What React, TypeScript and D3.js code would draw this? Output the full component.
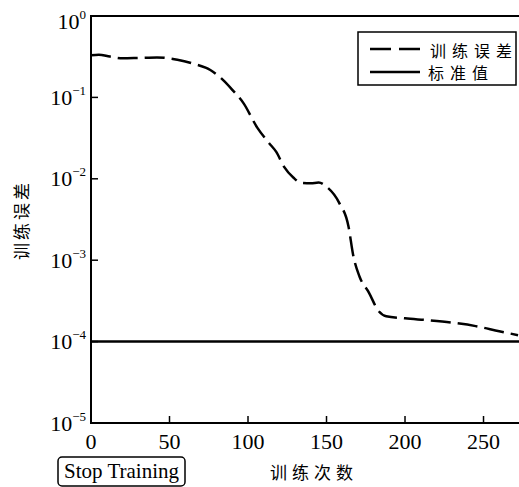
import React from "react";
import * as d3 from "d3";

const iterations = [0, 5, 12, 20, 30, 42, 55, 65, 76, 84, 90, 97, 106, 113, 118, 123, 129, 134, 140, 145, 150, 158, 164, 167, 171, 177, 183, 188, 200, 215, 230, 245, 260, 272];
const trainError = [0.33, 0.335, 0.318, 0.302, 0.305, 0.31, 0.29, 0.26, 0.217, 0.164, 0.124, 0.0857, 0.0422, 0.028, 0.0214, 0.014, 0.0103, 0.0089, 0.0088, 0.009, 0.008, 0.0051, 0.0026, 0.00115, 0.00063, 0.0004, 0.00024, 0.000205, 0.000193, 0.000183, 0.000171, 0.000155, 0.000134, 0.00012];
const goal = 1e-4;
const xTicks = [0, 50, 100, 150, 200, 250];
const yExponents = [0, -1, -2, -3, -4, -5];
const seriesNames = ["训练误差", "标准值"];
const xLabel = "训练次数";
const yLabel = "训练误差";
const buttonLabel = "Stop Training";

const W = 519;
const H = 487;
const left = 91;
const right = 519;
const top = 16;
const bottom = 423;

const serif = "'Liberation Serif', 'Times New Roman', 'DejaVu Serif', serif";
const cjk = "'Noto Sans CJK SC', sans-serif";

export default function App() {
  const x = d3.scaleLinear().domain([0, 272.6]).range([left, right]);
  const y = d3.scaleLog().domain([1e-5, 1]).range([bottom, top]);
  const data = iterations.map((v, i) => [v, trainError[i]] as [number, number]);
  const line = d3
    .line<[number, number]>()
    .x((d) => x(d[0]))
    .y((d) => y(d[1]))
    .curve(d3.curveMonotoneX);

  return (
    <svg width={W} height={H} style={{ position: "absolute", left: 0, top: 0, background: "#fff" }}>
      <rect x={0} y={0} width={W} height={H} fill="#fff" />
      {/* error curve */}
      <path d={line(data) || ""} fill="none" stroke="#000" strokeWidth={2.5} strokeDasharray="20 7" />
      {/* goal line */}
      <line x1={left} x2={right} y1={y(goal)} y2={y(goal)} stroke="#000" strokeWidth={2.5} />
      {/* axes */}
      <line x1={left} x2={right} y1={top} y2={top} stroke="#000" strokeWidth={2} />
      <line x1={left} x2={left} y1={top - 1} y2={bottom + 1} stroke="#000" strokeWidth={2} />
      <line x1={left - 1} x2={right} y1={bottom} y2={bottom} stroke="#000" strokeWidth={2} />
      {xTicks.map((t) => (
        <g key={"x" + t}>
          <line x1={x(t)} x2={x(t)} y1={bottom} y2={bottom - 7} stroke="#000" strokeWidth={1.5} />
          <text x={x(t)} y={449} textAnchor="middle" fontFamily={serif} fontSize={22}>
            {t}
          </text>
        </g>
      ))}
      {yExponents.map((e) => {
        const py = y(Math.pow(10, e));
        const ly = e === 0 ? 21 : py;
        return (
          <g key={"y" + e}>
            <line x1={left} x2={left + 7} y1={py} y2={py} stroke="#000" strokeWidth={1.5} />
            <text x={86} y={ly + 7.5} textAnchor="end" fontFamily={serif} fontSize={22}>
              10
              <tspan fontSize={13} dy={-10}>
                {e === 0 ? "0" : "\u2212" + Math.abs(e)}
              </tspan>
            </text>
          </g>
        );
      })}
      {/* legend */}
      <rect x={358} y={32} width={158} height={53} fill="#fff" stroke="#000" strokeWidth={1.5} />
      <line x1={370} x2={420} y1={49} y2={49} stroke="#000" strokeWidth={2.5} strokeDasharray="21 8" />
      <line x1={370} x2={420} y1={72} y2={72} stroke="#000" strokeWidth={2.5} />
      <text x={430} y={49.5} dominantBaseline="central" fontFamily={cjk} fontSize={16} letterSpacing={6}>
        {seriesNames[0]}
      </text>
      <text x={428} y={71.5} dominantBaseline="central" fontFamily={cjk} fontSize={16} letterSpacing={6}>
        {seriesNames[1]}
      </text>
      {/* x label */}
      <text x={270} y={471} dominantBaseline="central" fontFamily={cjk} fontSize={17} letterSpacing={5}>
        {xLabel}
      </text>
      {/* y label */}
      <g transform="translate(20,260) rotate(-90)">
        <text x={0} y={0} dominantBaseline="central" fontFamily={cjk} fontSize={17} letterSpacing={3}>
          {yLabel}
        </text>
      </g>
      {/* button */}
      <rect x={58} y={457} width={127} height={29} rx={4} fill="#fff" stroke="#000" strokeWidth={1.5} />
      <text x={121.5} y={478} textAnchor="middle" fontFamily={serif} fontSize={21}>
        {buttonLabel}
      </text>
    </svg>
  );
}
